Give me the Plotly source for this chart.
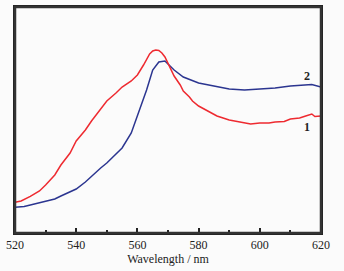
import plotly.graph_objects as go

wl_red = [520, 522, 525, 528, 530, 533, 535, 538, 540, 543, 545, 548, 550, 553, 555, 558, 560, 562, 563, 564, 565, 566, 567, 568, 569, 570, 572, 574, 575, 577, 578, 580, 583, 586, 590, 593, 595, 597, 600, 603, 605, 608, 610, 613, 615, 617, 618, 620]
y_red = [30.7, 32, 36.7, 42, 48, 58, 68, 80, 92, 103, 112, 124, 132, 140, 146, 152, 158, 168, 174, 179, 182, 183, 182.5, 180, 176, 170, 157, 148, 142, 136, 132, 127, 122, 117, 113, 111, 110, 109, 110, 110, 111, 111.5, 114, 115, 117, 119, 116.5, 117]

wl_blue = [520, 523, 525, 527, 530, 533, 535, 538, 540, 543, 545, 548, 550, 553, 555, 558, 560, 562, 563, 565, 567, 569, 570, 572, 575, 578, 580, 585, 590, 595, 600, 605, 610, 615, 617, 620]
y_blue = [25.7, 26.5, 28, 29.5, 31, 34, 37, 41, 44, 51, 57, 65, 70, 79, 85, 100, 117, 133, 143, 163, 171, 172, 169, 163, 156, 152, 150, 147, 144, 143, 144, 145, 147, 148, 148.5, 146]

labels = ["1", "2"]
label_x = [615.5, 615.5]
label_y = [106, 157]

fig = go.Figure()
fig.add_trace(go.Scatter(x=wl_blue, y=y_blue, mode="lines", line=dict(color="#2b3590", width=1.5)))
fig.add_trace(go.Scatter(x=wl_red, y=y_red, mode="lines", line=dict(color="#ee2a30", width=1.5)))

for t, x, y in zip(labels, label_x, label_y):
    fig.add_annotation(x=x, y=y, text="<b>%s</b>" % t, showarrow=False,
                       font=dict(family="Liberation Serif", size=12, color="#222"))

fig.add_shape(type="rect", xref="paper", yref="paper", x0=0, y0=0, x1=1, y1=1,
              line=dict(color="#333333", width=2.5), layer="above")

fig.update_layout(
    width=344, height=271,
    margin=dict(l=15, r=23, t=7, b=38),
    paper_bgcolor="#fbfbfb", plot_bgcolor="#fbfbfb",
    showlegend=False,
    font=dict(family="Liberation Serif", size=12, color="#222"),
    xaxis=dict(range=[520, 620], tickvals=[520, 540, 560, 580, 600, 620],
               ticks="inside", ticklen=5, tickcolor="#222", tickwidth=1.5,
               minor=dict(tickvals=[530, 550, 570, 590, 610], ticks="inside", ticklen=3, tickcolor="#222", tickwidth=1.5),
               showline=True, linecolor="#222", linewidth=2, mirror=True,
               showgrid=False, zeroline=False, automargin=False,
               title=dict(text="Wavelength / nm", font=dict(size=12), standoff=0),
               tickfont=dict(family="Liberation Serif", size=12)),
    yaxis=dict(range=[0, 226], showticklabels=False, ticks="",
               showline=True, linecolor="#222", linewidth=2, mirror=True,
               showgrid=False, zeroline=False, automargin=False),
)

fig.write_html("out.html", config={"displayModeBar": False},
               post_script="document.body.style.margin='0';document.body.style.background='#fbfbfb';")
